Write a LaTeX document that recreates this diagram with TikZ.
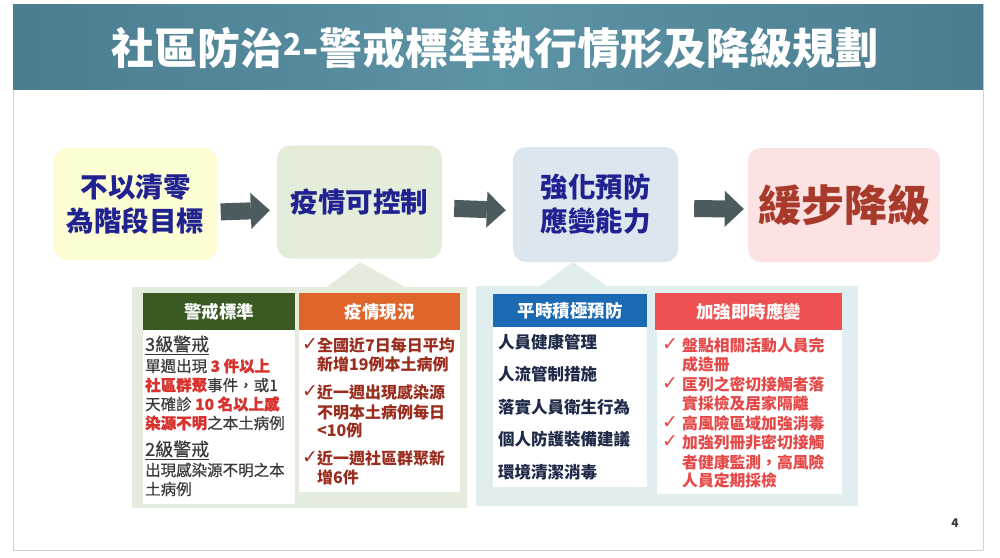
\documentclass[tikz,border=0pt]{standalone}
\usepackage{fontspec}
\setmainfont{Noto Sans CJK TC}
\newfontfamily\medfont{Noto Sans CJK TC}[FakeBold=0.6]
\newfontfamily\symfont{DejaVu Sans}
\usepackage{xcolor}
\usepackage{tikz}
\usetikzlibrary{arrows.meta,positioning}

\definecolor{titleA}{HTML}{4A7D8F}
\definecolor{titleB}{HTML}{5C93A5}
\definecolor{arrowgray}{HTML}{4B5B5E}
\definecolor{goalfill}{HTML}{FDFDD3}
\definecolor{controlfill}{HTML}{E4EDDA}
\definecolor{preventfill}{HTML}{DCE6EE}
\definecolor{downfill}{HTML}{FCE2E2}
\definecolor{downtext}{HTML}{A83A2B}
\definecolor{navytext}{HTML}{1F2290}
\definecolor{leftpanel}{HTML}{E4EDDD}
\definecolor{rightpanel}{HTML}{E1EEF0}
\definecolor{stdgreen}{HTML}{3A5A22}
\definecolor{statusorange}{HTML}{E0652A}
\definecolor{routineblue}{HTML}{1B6AB3}
\definecolor{responsered}{HTML}{EE5151}
\definecolor{graytext}{HTML}{3A3A3A}
\definecolor{alertred}{HTML}{D8322F}
\definecolor{statustext}{HTML}{9A2D1E}
\definecolor{itemnavy}{HTML}{1E2A48}
\definecolor{responsetext}{HTML}{E64848}

\newcommand{\redhi}[1]{{\bfseries\color{alertred}#1}}

\begin{document}
\begin{tikzpicture}[x=1pt,y=-1pt,
    topbox/.style={rounded corners=13pt, inner sep=0pt, align=center, text=navytext,
      font=\bfseries\fontsize{27.5}{34}\selectfont},
    bigarrow/.style={draw=arrowgray, line width=17pt,
      -{Triangle[length=19pt,width=36pt,line width=0pt]}},
    header/.style={inner sep=0pt, text=white, font=\bfseries\fontsize{17.5}{20}\selectfont},
    bodytxt/.style={anchor=west, inner sep=0pt, text=graytext, font=\medfont\fontsize{15.5}{19}\selectfont},
    statustxt/.style={anchor=west, inner sep=0pt, text=statustext, font=\bfseries\fontsize{16}{19}\selectfont},
    itemtxt/.style={anchor=west, inner sep=0pt, text=itemnavy, font=\bfseries\fontsize{16.5}{19}\selectfont},
    responsetxt/.style={anchor=west, inner sep=0pt, text=responsetext, font=\bfseries\fontsize{15.8}{19}\selectfont},
    chk/.style={anchor=west, inner sep=0pt, font=\symfont\fontsize{19}{21}\selectfont}
  ]
  \useasboundingbox (0,0) rectangle (1000,557);
  \fill[white] (0,0) rectangle (1000,557);

  % slide frame and title
  \draw[gray!35, line width=0.8pt] (13,4) rectangle (983,550);
  \node[inner sep=0pt, minimum width=970pt, minimum height=85pt,
    left color=titleA, right color=titleA, middle color=titleB] (titlebar) at (498,46.5) {};
  \node[text=white, font=\bfseries\fontsize{43}{50}\selectfont] (title) at (495,48)
    {社區防治\textsuperscript{2}-警戒標準執行情形及降級規劃};

  % steps
  \node[topbox, fill=goalfill, minimum width=164pt, minimum height=112pt] (goal) at (135.5,204)
    {不以清零\\為階段目標};
  \node[topbox, fill=controlfill, minimum width=165pt, minimum height=113pt] (control) at (359.5,202)
    {疫情可控制};
  \node[topbox, fill=preventfill, minimum width=165pt, minimum height=115pt] (prevent) at (595.5,204.5)
    {強化預防\\應變能力};
  \node[topbox, fill=downfill, text=downtext, minimum width=192pt, minimum height=114pt,
    font=\bfseries\fontsize{43}{50}\selectfont] (downgrade) at (844,205) {緩步降級};

  \draw[bigarrow, shorten <=3pt, shorten >=7pt] ([yshift=-8pt]goal.east) -- ([yshift=-8pt]control.west);
  \draw[bigarrow, shorten <=12pt, shorten >=7pt] ([yshift=-6pt]control.east) -- ([yshift=-6pt]prevent.west);
  \draw[bigarrow, shorten <=16pt, shorten >=4pt] ([yshift=-4pt]prevent.east) -- ([yshift=-4pt]downgrade.west);

  % panels
  \fill[leftpanel] (132,287) -- (327,287) -- (360,262) -- (405,287) -- (467,287)
    -- (467,508) -- (132,508) -- cycle;
  \fill[rightpanel] (476,286) -- (540,286) -- (573,262) -- (607,286) -- (858,286)
    -- (858,506) -- (476,506) -- cycle;

  \fill[white] (143,330) rectangle (295,504);
  \fill[white] (299,330) rectangle (460,492);
  \fill[white] (493,327) rectangle (647,487);
  \fill[white] (657,330) rectangle (842,494);

  \node[header, fill=stdgreen, minimum width=152pt, minimum height=37pt] (stdhead) at (219,311.5) {警戒標準};
  \node[header, fill=statusorange, minimum width=161pt, minimum height=37pt] (statushead) at (379.5,311.5) {疫情現況};
  \node[header, fill=routineblue, minimum width=154pt, minimum height=33pt] (routinehead) at (570,310.5) {平時積極預防};
  \node[header, fill=responsered, minimum width=187pt, minimum height=37pt] (responsehead) at (748.5,311.5) {加強即時應變};

  % alert levels
  \node[bodytxt, font=\medfont\fontsize{18}{20}\selectfont] (lvlthree) at (145,345) {\underline{3級警戒}};
  \node[bodytxt] (lthreea) at (145,366) {單週出現 \redhi{3 件以上}};
  \node[bodytxt] (lthreeb) at (145,385) {\redhi{社區群聚}事件，或1};
  \node[bodytxt] (lthreec) at (145,404) {天確診 \redhi{10 名以上感}};
  \node[bodytxt] (lthreed) at (145,423) {\redhi{染源不明}之本土病例};
  \node[bodytxt, font=\medfont\fontsize{18}{20}\selectfont] (lvltwo) at (145,450) {\underline{2級警戒}};
  \node[bodytxt] (ltwoa) at (145,470) {出現感染源不明之本};
  \node[bodytxt] (ltwob) at (145,489) {土病例};

  % current status
  \node[chk, text=statustext] (chka) at (302,345) {✓};
  \node[statustxt] (statusa) at (317,345) {全國近7日每日平均};
  \node[statustxt] (statusb) at (317,364) {新增19例本土病例};
  \node[chk, text=statustext] (chkb) at (302,392) {✓};
  \node[statustxt] (statusc) at (317,392) {近一週出現感染源};
  \node[statustxt] (statusd) at (317,412) {不明本土病例每日};
  \node[statustxt] (statuse) at (317,430) {<10例};
  \node[chk, text=statustext] (chkc) at (302,458) {✓};
  \node[statustxt] (statusf) at (317,458) {近一週社區群聚新};
  \node[statustxt] (statusg) at (317,477) {增6件};

  % routine prevention
  \foreach \txt [count=\i] in {人員健康管理,人流管制措施,落實人員衛生行為,個人防護裝備建議,環境清潔消毒}
    \node[itemtxt] (routine\i) at (498,{342+(\i-1)*32.5}) {\txt};

  % response
  \node[chk, text=responsetext] (rchka) at (662,345) {✓};
  \node[responsetxt] (respa) at (682,345) {盤點相關活動人員完};
  \node[responsetxt] (respb) at (682,364) {成造冊};
  \node[chk, text=responsetext] (rchkb) at (662,384) {✓};
  \node[responsetxt] (respc) at (682,384) {匡列之密切接觸者落};
  \node[responsetxt] (respd) at (682,403) {實採檢及居家隔離};
  \node[chk, text=responsetext] (rchkc) at (662,423) {✓};
  \node[responsetxt] (respe) at (682,423) {高風險區域加強消毒};
  \node[chk, text=responsetext] (rchkd) at (662,442) {✓};
  \node[responsetxt] (respf) at (682,442) {加強列冊非密切接觸};
  \node[responsetxt] (respg) at (682,462) {者健康監測，高風險};
  \node[responsetxt] (resph) at (682,480) {人員定期採檢};

  \node[text=graytext, font=\bfseries\fontsize{12}{14}\selectfont] (pagenum) at (955,523) {4};
\end{tikzpicture}
\end{document}
